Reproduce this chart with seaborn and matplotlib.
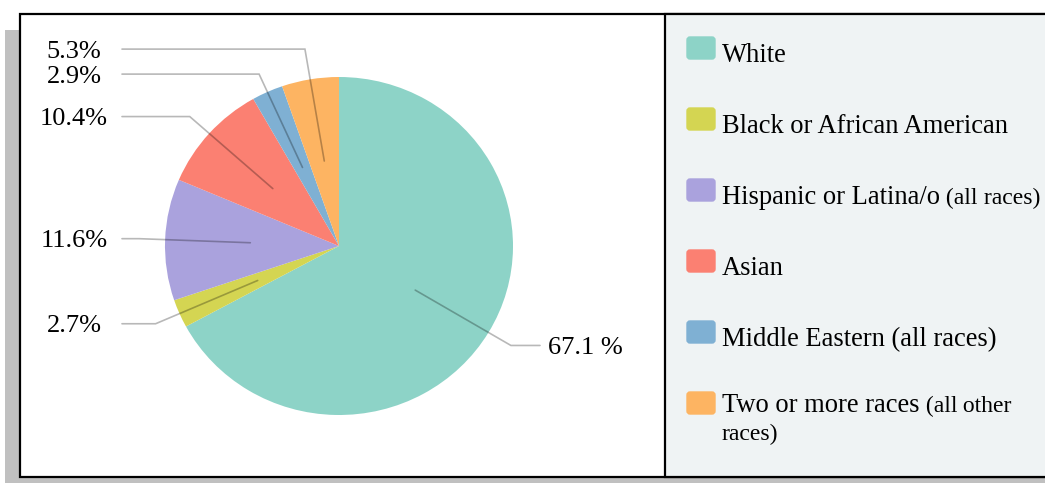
import matplotlib
matplotlib.use("Agg")
import matplotlib.pyplot as plt
from matplotlib.patches import Rectangle, FancyBboxPatch
import numpy as np
import seaborn as sns

# Data
categories = ["White", "Black or African American", "Hispanic or Latina/o",
              "Asian", "Middle Eastern (all races)", "Two or more races"]
category_notes = ["", "", "(all races)", "", "", "(all other races)"]
shares = [67.1, 2.7, 11.6, 10.4, 2.9, 5.3]
pct_sep = [" ", "", "", "", "", ""]
slice_colors = ["#8dd3c7", "#d4d552", "#aaa2dd", "#fb8072", "#7fb0d3", "#fdb462"]

sns.set_style("white")
plt.rcParams["font.family"] = ["Liberation Serif", "DejaVu Serif"]
plt.rcParams["text.color"] = "black"

W, H = 1045, 483
fig = plt.figure(figsize=(W / 100, H / 100), dpi=100)

# Background canvas in pixel units (y downwards)
bg = fig.add_axes([0, 0, 1, 1])
bg.set_xlim(0, W)
bg.set_ylim(H, 0)
bg.axis("off")

bg.add_patch(Rectangle((5, 30), W, H, facecolor="#c0c0c0", edgecolor="none", zorder=0))
bg.add_patch(Rectangle((20, 14), W + 10, 463, facecolor="white",
                       edgecolor="black", linewidth=1.6, zorder=1))
bg.add_patch(Rectangle((665, 14), W, 463, facecolor="#eff3f4",
                       edgecolor="black", linewidth=1.6, zorder=2))

# Legend
main_fs = 19.1
note_fs = 17.0
renderer = fig.canvas.get_renderer()
text_x = 722
right_limit = 1044
row_top = 36
row_step = 71
palette = sns.color_palette(slice_colors)
for i, (name, note) in enumerate(zip(categories, category_notes)):
    top = row_top + i * row_step
    bg.add_patch(FancyBboxPatch((687, top + 1), 28, 22,
                                boxstyle="round,pad=0,rounding_size=3",
                                facecolor=palette[i], edgecolor=palette[i],
                                linewidth=1, zorder=3))
    t = bg.text(text_x, 0, name, fontsize=main_fs, va="baseline", ha="left", zorder=4)
    x = text_x + t.get_window_extent(renderer).width
    # word-wrap the smaller note text inside the panel
    placements = []
    line = 0
    for wd in note.split():
        tmp = bg.text(0, 0, " " + wd, fontsize=note_fs)
        ww = tmp.get_window_extent(renderer).width
        tmp.remove()
        if x + ww > right_limit:
            line += 1
            x = text_x
        placements.append((wd, x, line))
        x += ww
    nlines = line + 1
    base = top + (26 if nlines == 1 else 21)
    t.set_y(base)
    for wd, px, ln in placements:
        s = wd if px == text_x else " " + wd
        bg.text(px, base + ln * 28, s, fontsize=note_fs, va="baseline",
                ha="left", zorder=4)

# Pie
cx, cy, rx, ry = 339, 246, 174, 169
ax = fig.add_axes([(cx - rx) / W, (H - cy - ry) / H, 2 * rx / W, 2 * ry / H])
wedges, _ = ax.pie(shares, colors=palette, startangle=90, counterclock=False,
                   wedgeprops=dict(linewidth=0))
ax.set_aspect("auto")
ax.set_xlim(-1, 1)
ax.set_ylim(-1, 1)
ax.patch.set_visible(False)
ax.axis("off")

left_end = (122 - cx) / rx
right_end = (540 - cx) / rx
left_text = (74 - cx) / rx
right_text = (548 - cx) / rx
min_gap = 25 / ry  # minimal vertical spacing between labels on one side

entries = []
for w, v, sep in zip(wedges, shares, pct_sep):
    mid = np.deg2rad((w.theta1 + w.theta2) / 2)
    c, s = np.cos(mid), np.sin(mid)
    entries.append(dict(c=c, s=s, y=1.15 * s, v=v, sep=sep))

# spread labels on each side so they do not overlap
for side in (-1, 1):
    grp = sorted([e for e in entries if np.sign(e["c"]) == side],
                 key=lambda e: e["y"])
    for _ in range(20):
        moved = False
        for a, b in zip(grp, grp[1:]):
            d = b["y"] - a["y"]
            if d < min_gap:
                push = (min_gap - d) / 2
                a["y"] -= push
                b["y"] += push
                moved = True
        if not moved:
            break

for e in entries:
    c, s = e["c"], e["s"]
    p_in = (0.51 * c, 0.51 * s)
    r_el = e["y"] / s if abs(s) > 0.3 else 1.15
    p_el = (r_el * c, e["y"])
    if c < 0:
        p_end = (left_end, e["y"])
        tx, ha = left_text, "center"
    else:
        p_end = (right_end, e["y"])
        tx, ha = right_text, "left"
    ax.plot([p_in[0], p_el[0], p_end[0]], [p_in[1], p_el[1], p_end[1]],
            color="black", alpha=0.28, linewidth=1.2, clip_on=False,
            solid_joinstyle="miter")
    ax.text(tx, e["y"], f"{e['v']:.1f}{e['sep']}%", ha=ha, va="center_baseline",
            fontsize=19, clip_on=False)

fig.savefig("out.png", dpi=100)
